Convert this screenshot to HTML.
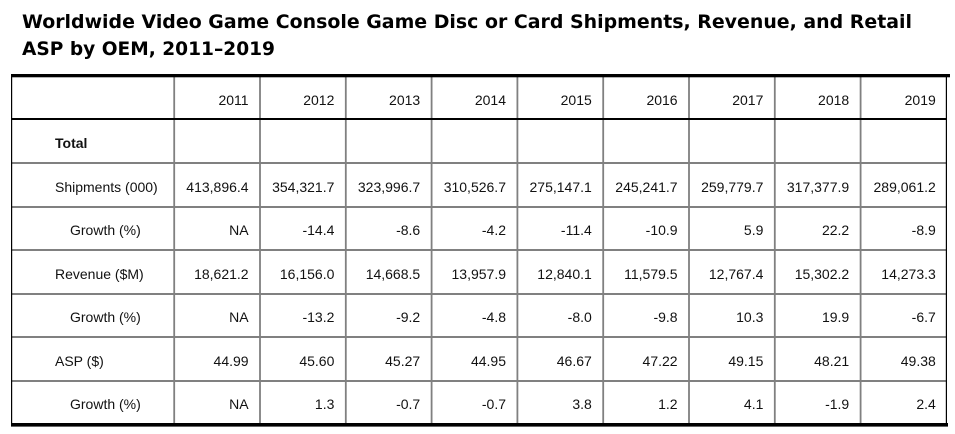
<!DOCTYPE html>
<html>
<head>
<meta charset="utf-8">
<style>
html,body{margin:0;padding:0;background:#fff;}
svg{display:block;}
.t{font-family:"DejaVu Sans","Liberation Sans",sans-serif;font-weight:bold;font-size:19px;fill:#000;}
.c{font-family:"Liberation Sans",Arial,sans-serif;font-size:14px;fill:#111;}
.r{text-anchor:end;}
.b{font-weight:bold;}
</style>
</head>
<body>
<svg width="955" height="434" viewBox="0 0 955 434" xmlns="http://www.w3.org/2000/svg">
<text class="t" x="22" y="28" textLength="890" lengthAdjust="spacingAndGlyphs">Worldwide Video Game Console Game Disc or Card Shipments, Revenue, and Retail</text>
<text class="t" x="22" y="55" textLength="253" lengthAdjust="spacingAndGlyphs">ASP by OEM, 2011–2019</text>

<!-- gray horizontal lines -->
<g fill="#808080">
<rect x="11" y="162" width="935" height="2"/>
<rect x="11" y="206" width="935" height="2"/>
<rect x="11" y="249" width="935" height="2"/>
<rect x="11" y="293" width="935" height="2"/>
<rect x="11" y="336" width="935" height="2"/>
<rect x="11" y="380" width="935" height="2"/>
<!-- gray vertical lines -->
<rect x="173.3" y="77" width="1.8" height="346"/>
<rect x="259.1" y="77" width="1.8" height="346"/>
<rect x="344.9" y="77" width="1.8" height="346"/>
<rect x="430.7" y="77" width="1.8" height="346"/>
<rect x="516.5" y="77" width="1.8" height="346"/>
<rect x="602.3" y="77" width="1.8" height="346"/>
<rect x="688.1" y="77" width="1.8" height="346"/>
<rect x="773.9" y="77" width="1.8" height="346"/>
<rect x="859.7" y="77" width="1.8" height="346"/>
</g>
<g fill="#000">
<rect x="11" y="74" width="939" height="3.3"/>
<rect x="11" y="118" width="935" height="2"/>
<rect x="11" y="77" width="1.2" height="347"/>
<rect x="945.8" y="77" width="1.2" height="347"/>
<rect x="11" y="423" width="937" height="3.6"/>
</g>

<g class="c">
<!-- header -->
<text class="r" x="248.6" y="105">2011</text>
<text class="r" x="334.4" y="105">2012</text>
<text class="r" x="420.2" y="105">2013</text>
<text class="r" x="506" y="105">2014</text>
<text class="r" x="591.8" y="105">2015</text>
<text class="r" x="677.6" y="105">2016</text>
<text class="r" x="763.4" y="105">2017</text>
<text class="r" x="849.2" y="105">2018</text>
<text class="r" x="935.8" y="105">2019</text>

<text class="b" x="55" y="148">Total</text>

<text x="55" y="192">Shipments (000)</text>
<text class="r" x="248.6" y="192">413,896.4</text>
<text class="r" x="334.4" y="192">354,321.7</text>
<text class="r" x="420.2" y="192">323,996.7</text>
<text class="r" x="506" y="192">310,526.7</text>
<text class="r" x="591.8" y="192">275,147.1</text>
<text class="r" x="677.6" y="192">245,241.7</text>
<text class="r" x="763.4" y="192">259,779.7</text>
<text class="r" x="849.2" y="192">317,377.9</text>
<text class="r" x="935.8" y="192">289,061.2</text>

<text x="70" y="235">Growth (%)</text>
<text class="r" x="248.6" y="235">NA</text>
<text class="r" x="334.4" y="235">-14.4</text>
<text class="r" x="420.2" y="235">-8.6</text>
<text class="r" x="506" y="235">-4.2</text>
<text class="r" x="591.8" y="235">-11.4</text>
<text class="r" x="677.6" y="235">-10.9</text>
<text class="r" x="763.4" y="235">5.9</text>
<text class="r" x="849.2" y="235">22.2</text>
<text class="r" x="935.8" y="235">-8.9</text>

<text x="55" y="279">Revenue ($M)</text>
<text class="r" x="248.6" y="279">18,621.2</text>
<text class="r" x="334.4" y="279">16,156.0</text>
<text class="r" x="420.2" y="279">14,668.5</text>
<text class="r" x="506" y="279">13,957.9</text>
<text class="r" x="591.8" y="279">12,840.1</text>
<text class="r" x="677.6" y="279">11,579.5</text>
<text class="r" x="763.4" y="279">12,767.4</text>
<text class="r" x="849.2" y="279">15,302.2</text>
<text class="r" x="935.8" y="279">14,273.3</text>

<text x="70" y="322">Growth (%)</text>
<text class="r" x="248.6" y="322">NA</text>
<text class="r" x="334.4" y="322">-13.2</text>
<text class="r" x="420.2" y="322">-9.2</text>
<text class="r" x="506" y="322">-4.8</text>
<text class="r" x="591.8" y="322">-8.0</text>
<text class="r" x="677.6" y="322">-9.8</text>
<text class="r" x="763.4" y="322">10.3</text>
<text class="r" x="849.2" y="322">19.9</text>
<text class="r" x="935.8" y="322">-6.7</text>

<text x="55" y="366">ASP ($)</text>
<text class="r" x="248.6" y="366">44.99</text>
<text class="r" x="334.4" y="366">45.60</text>
<text class="r" x="420.2" y="366">45.27</text>
<text class="r" x="506" y="366">44.95</text>
<text class="r" x="591.8" y="366">46.67</text>
<text class="r" x="677.6" y="366">47.22</text>
<text class="r" x="763.4" y="366">49.15</text>
<text class="r" x="849.2" y="366">48.21</text>
<text class="r" x="935.8" y="366">49.38</text>

<text x="70" y="409">Growth (%)</text>
<text class="r" x="248.6" y="409">NA</text>
<text class="r" x="334.4" y="409">1.3</text>
<text class="r" x="420.2" y="409">-0.7</text>
<text class="r" x="506" y="409">-0.7</text>
<text class="r" x="591.8" y="409">3.8</text>
<text class="r" x="677.6" y="409">1.2</text>
<text class="r" x="763.4" y="409">4.1</text>
<text class="r" x="849.2" y="409">-1.9</text>
<text class="r" x="935.8" y="409">2.4</text>
</g>
</svg>
</body>
</html>
